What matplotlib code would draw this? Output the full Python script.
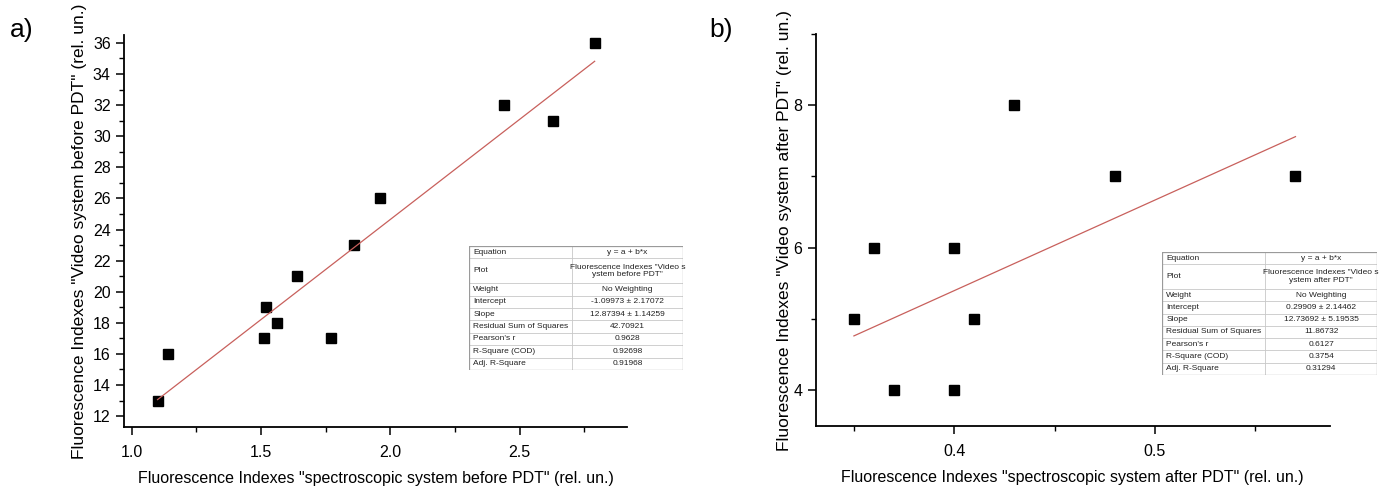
import matplotlib
matplotlib.use("Agg")
import matplotlib.pyplot as plt
from matplotlib.ticker import MultipleLocator
import numpy as np

plt.rcParams['font.family'] = ['Liberation Sans', 'DejaVu Sans']

# panel a: before PDT
spec_before = [1.10, 1.14, 1.51, 1.52, 1.56, 1.64, 1.77, 1.86, 1.96, 2.44, 2.63, 2.79]
video_before = [13, 16, 17, 19, 18, 21, 17, 23, 26, 32, 31, 36]
fit_a = (-1.09973, 12.87394)

# panel b: after PDT
spec_after = [0.35, 0.36, 0.37, 0.40, 0.40, 0.41, 0.43, 0.48, 0.57]
video_after = [5, 6, 4, 6, 4, 5, 8, 7, 7]
fit_b = (0.29909, 12.73692)

row_names = ["Equation", "Plot", "Weight", "Intercept", "Slope",
             "Residual Sum of Squares", "Pearson's r", "R-Square (COD)", "Adj. R-Square"]
vals_a = ["y = a + b*x", "Fluorescence Indexes \"Video s\nystem before PDT\"", "No Weighting",
          "-1.09973 \u00b1 2.17072", "12.87394 \u00b1 1.14259", "42.70921", "0.9628",
          "0.92698", "0.91968"]
vals_b = ["y = a + b*x", "Fluorescence Indexes \"Video s\nystem after PDT\"", "No Weighting",
          "0.29909 \u00b1 2.14462", "12.73692 \u00b1 5.19535", "11.86732", "0.6127",
          "0.3754", "0.31294"]

LINE_COL = "#c8605c"


def style_axes(ax):
    for s in ["top", "right"]:
        ax.spines[s].set_visible(False)
    for s in ["left", "bottom"]:
        ax.spines[s].set_linewidth(1.3)
    ax.tick_params(which="major", direction="out", length=6, width=1.1, labelsize=11.5)
    ax.tick_params(axis="x", which="major", pad=7)
    ax.tick_params(which="minor", direction="out", length=3.5, width=1.0)


def fit_table(fig, rect, values):
    tax = fig.add_axes(rect)
    tax.set_xlim(0, 1)
    tax.set_ylim(10, 0)
    tax.axis("off")
    split = 0.48
    # rows: Plot row is double height
    heights = [1, 2, 1, 1, 1, 1, 1, 1, 1]
    y = 0
    for name, val, h in zip(row_names, values, heights):
        tax.text(0.02, y + h / 2, name, fontsize=6, va="center", ha="left", color="#222222")
        tax.text(split + (1 - split) / 2, y + h / 2, val, fontsize=6, va="center", ha="center",
                 color="#222222", linespacing=1.1)
        y += h
        if y < 10:
            tax.plot([0, 1], [y, y], color="#c8c8c8", lw=0.6)
    tax.plot([split, split], [0, 10], color="#c8c8c8", lw=0.6)
    tax.plot([0, 1, 1, 0, 0], [0, 0, 10, 10, 0], color="#9a9a9a", lw=0.9)


fig = plt.figure(figsize=(13.85, 4.88), dpi=100)

# ---- panel a ----
ax1 = fig.add_axes([0.0895, 0.125, 0.3632, 0.803])
style_axes(ax1)
ax1.plot(spec_before, video_before, "s", color="black", markersize=6.5)
xa = np.array([min(spec_before), max(spec_before)])
ax1.plot(xa, fit_a[0] + fit_a[1] * xa, color=LINE_COL, lw=0.9)
ax1.set_xlim(0.97, 2.915)
ax1.set_ylim(11.3, 36.5)
ax1.xaxis.set_major_locator(MultipleLocator(0.5))
ax1.xaxis.set_minor_locator(MultipleLocator(0.25))
ax1.yaxis.set_major_locator(MultipleLocator(2))
ax1.yaxis.set_minor_locator(MultipleLocator(1))
ax1.set_xlabel("Fluorescence Indexes \"spectroscopic system before PDT\" (rel. un.)", fontsize=11.5, labelpad=8)
ax1.set_ylabel("Fluorescence Indexes \"Video system before PDT\" (rel. un.)", fontsize=12.5, labelpad=4)
fig.text(0.007, 0.925, "a)", fontsize=19)
fit_table(fig, [469 / 1385, 1 - 370 / 488, 214 / 1385, 124 / 488], vals_a)

# ---- panel b ----
ax2 = fig.add_axes([0.589, 0.127, 0.371, 0.803])
style_axes(ax2)
ax2.plot(spec_after, video_after, "s", color="black", markersize=6.5)
xb = np.array([min(spec_after), max(spec_after)])
ax2.plot(xb, fit_b[0] + fit_b[1] * xb, color=LINE_COL, lw=0.9)
ax2.set_xlim(0.331, 0.587)
ax2.set_ylim(3.49, 9.0)
ax2.xaxis.set_major_locator(MultipleLocator(0.1))
ax2.xaxis.set_minor_locator(MultipleLocator(0.05))
ax2.yaxis.set_major_locator(MultipleLocator(2))
ax2.yaxis.set_minor_locator(MultipleLocator(1))
ax2.set_xlabel("Fluorescence Indexes \"spectroscopic system after PDT\" (rel. un.)", fontsize=11.5, labelpad=8)
ax2.set_ylabel("Fluorescence Indexes \"Video system after PDT\" (rel. un.)", fontsize=12.5, labelpad=1)
fig.text(0.512, 0.925, "b)", fontsize=19)
fit_table(fig, [1162 / 1385, 1 - 375 / 488, 215 / 1385, 123 / 488], vals_b)

fig.savefig("out.png", dpi=100)
